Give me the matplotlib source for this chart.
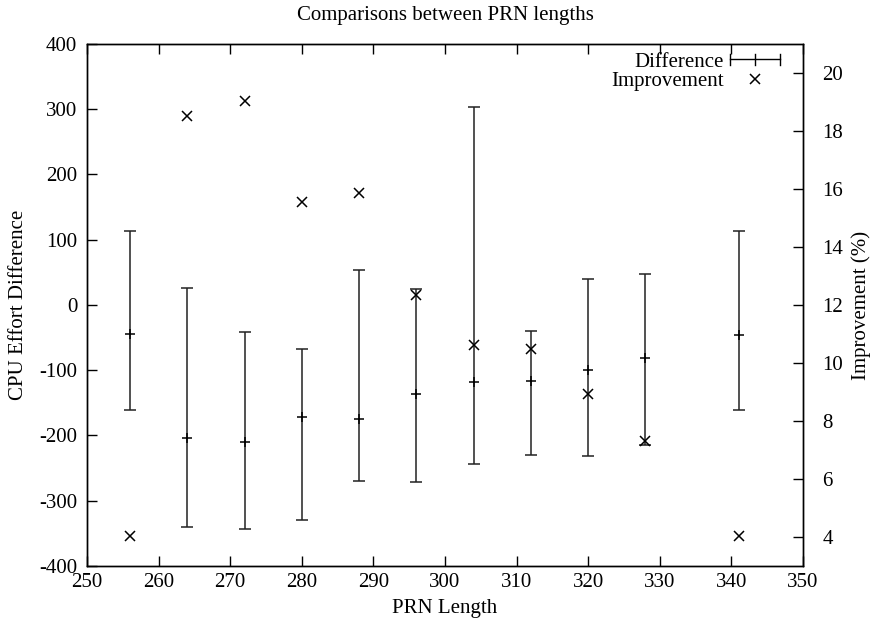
#!/usr/bin/env python3

import matplotlib
matplotlib.use('Agg')
import matplotlib.pyplot as plt
from matplotlib.legend_handler import HandlerBase
from matplotlib.lines import Line2D
import numpy as np

# PRN lengths and CPU effort difference (mean with min/max)
prn_length = [256, 264, 272, 280, 288, 296, 304, 312, 320, 328, 341]
diff_mid = [-45, -204, -210, -172, -175, -137, -118, -116, -99, -82, -46]
diff_low = [-161, -341, -344, -330, -270, -272, -243, -230, -231, -214, -161]
diff_high = [114, 26, -41, -67, 54, 24, 303, -40, 40, 47, 114]

# improvement in percent (right axis)
improvement = [4.05, 18.5, 19.05, 15.55, 15.85, 12.35, 10.62, 10.47, 8.93, 7.31, 4.05]

plt.rcParams['font.family'] = ['Liberation Serif', 'DejaVu Serif']
plt.rcParams['font.size'] = 15
plt.rcParams['axes.unicode_minus'] = False


class HandlerHBar(HandlerBase):
    # gnuplot style key sample: horizontal bar with end caps and a centre tick
    def create_artists(self, legend, orig_handle, xdescent, ydescent,
                       width, height, fontsize, trans):
        y = height / 2 - ydescent
        cap = 4
        arts = [
            Line2D([-xdescent, width - xdescent], [y, y]),
            Line2D([-xdescent, -xdescent], [y - cap, y + cap]),
            Line2D([width - xdescent, width - xdescent], [y - cap, y + cap]),
            Line2D([width / 2 - xdescent] * 2, [y - cap, y + cap]),
        ]
        for a in arts:
            a.set_color('black')
            a.set_linewidth(1)
            a.set_transform(trans)
        return arts


fig = plt.figure(figsize=(8.77, 6.23), dpi=100)
ax = fig.add_axes([0.0992, 0.0915, 0.8164, 0.8379])
ax2 = ax.twinx()

x = np.array(prn_length)
mid = np.array(diff_mid)
yerr = [mid - np.array(diff_low), np.array(diff_high) - mid]
ax.errorbar(x, mid, yerr=yerr, fmt='+', color='black', ecolor='#222222',
            elinewidth=1.1, capsize=4, capthick=1.1, markersize=7,
            markeredgewidth=1.1)
ax2.plot(x, improvement, 'x', color='black', markersize=6.5, markeredgewidth=1.1)

ax.set_xlim(250, 350)
ax.set_ylim(-400, 400)
ax2.set_ylim(3, 21)
ax.set_xticks(range(250, 351, 10))
ax.set_yticks(range(-400, 401, 100))
ax2.set_yticks(range(4, 21, 2))

ax.tick_params(axis='x', direction='in', top=True, length=7, width=1, pad=5)
ax.tick_params(axis='y', direction='in', length=7, width=1, pad=7)
ax2.tick_params(axis='y', direction='in', length=7, width=1, pad=14)
for a in (ax, ax2):
    for s in a.spines.values():
        s.set_linewidth(1)

ax.set_title('Comparisons between PRN lengths', fontsize=15, pad=17)
ax.set_xlabel('PRN Length', labelpad=5)
ax.set_ylabel('CPU Effort Difference', labelpad=8)
ax2.set_ylabel('Improvement (%)', labelpad=6)

h_diff = Line2D([], [], color='black')
h_imp = Line2D([], [], linestyle='none', marker='x', color='black',
               markersize=6.5, markeredgewidth=1.1)
ax.legend([h_diff, h_imp], ['Difference', 'Improvement'],
          handler_map={h_diff: HandlerHBar()}, loc='upper right',
          frameon=False, markerfirst=False, handlelength=2.4,
          handleheight=0.5, handletextpad=0.3, labelspacing=0.0,
          borderaxespad=0.2, bbox_to_anchor=(0.986, 1.007))

fig.savefig('out.png', dpi=100)
